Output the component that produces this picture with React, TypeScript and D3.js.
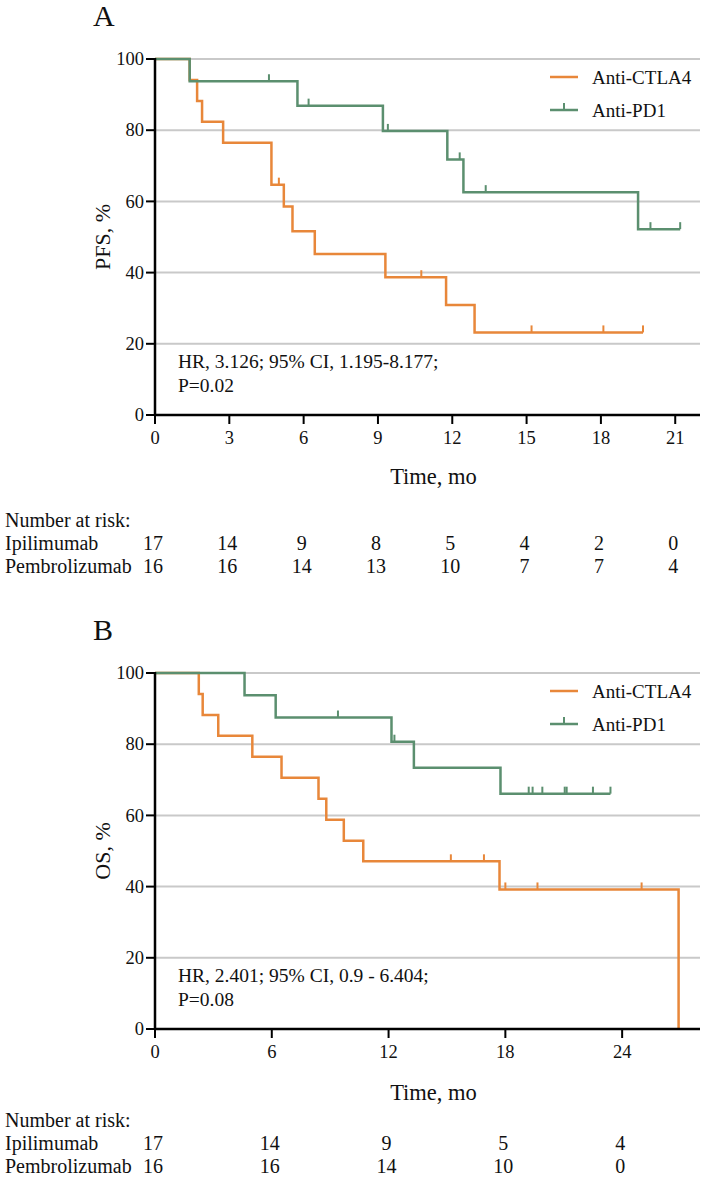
import React from "react";
import * as d3 from "d3";

// ---- data ----
const yTicks = [0, 20, 40, 60, 80, 100];

const pfsTimeTicks = [0, 3, 6, 9, 12, 15, 18, 21];
const osTimeTicks = [0, 6, 12, 18, 24];

// PFS, anti-CTLA4 (ipilimumab)
const pfsCtlaTimes = [0, 1.4, 1.7, 1.9, 2.75, 4.7, 5.2, 5.55, 6.45, 9.3, 11.75, 12.9];
const pfsCtlaSurv = [100, 94.1, 88.2, 82.4, 76.5, 64.7, 58.6, 51.6, 45.2, 38.7, 30.9, 23.2];
const pfsCtlaEnd = 19.7;
const pfsCtlaCensor = [5.0, 10.75, 15.2, 18.1, 19.7];

// PFS, anti-PD1 (pembrolizumab)
const pfsPd1Times = [0, 1.4, 5.75, 9.2, 11.8, 12.45, 19.5];
const pfsPd1Surv = [100, 93.75, 86.9, 79.8, 71.8, 62.6, 52.2];
const pfsPd1End = 21.2;
const pfsPd1Censor = [4.6, 6.2, 9.4, 12.3, 13.35, 20.0, 21.2];

// OS, anti-CTLA4
const osCtlaTimes = [0, 2.25, 2.45, 3.25, 5.0, 6.5, 8.4, 8.8, 9.7, 10.7, 17.7, 26.9];
const osCtlaSurv = [100, 94.1, 88.2, 82.4, 76.5, 70.6, 64.7, 58.8, 52.9, 47.1, 39.2, 0];
const osCtlaEnd = 26.9;
const osCtlaCensor = [15.2, 16.9, 18.0, 19.65, 25.0];

// OS, anti-PD1
const osPd1Times = [0, 4.6, 6.2, 12.15, 13.3, 17.75];
const osPd1Surv = [100, 93.75, 87.5, 80.7, 73.4, 66.1];
const osPd1End = 23.4;
const osPd1Censor = [9.4, 12.3, 19.2, 19.4, 19.9, 21.05, 21.15, 22.5, 23.4];

// numbers at risk
const pfsIpiRisk = [17, 14, 9, 8, 5, 4, 2, 0];
const pfsPemRisk = [16, 16, 14, 13, 10, 7, 7, 4];
const osIpiRisk = [17, 14, 9, 5, 4];
const osPemRisk = [16, 16, 14, 10, 0];

const seriesNames = ["Anti-CTLA4", "Anti-PD1"];
const riskNames = ["Ipilimumab", "Pembrolizumab"];

const ORANGE = "#e8873a";
const GREEN = "#5b8f6f";
const GRID = "#c9c9c9";
const FONT = "'Liberation Serif', 'Times New Roman', serif";

type Curve = { times: number[]; surv: number[]; end: number; censor: number[]; color: string };

function survAt(c: Curve, t: number) {
  let s = c.surv[0];
  c.times.forEach((ti, i) => {
    if (ti <= t) s = c.surv[i];
  });
  return s;
}

function Panel(props: {
  top: number;
  letter: string;
  yLabel: string;
  xMax: number;
  xTicks: number[];
  curves: Curve[];
  stats: string[];
  risk: number[][];
  tableTop: number;
  titleY: number;
}) {
  const { top, letter, yLabel, xMax, xTicks, curves, stats, risk, tableTop, titleY } = props;
  const left = 155;
  const right = 700;
  const x = d3.scaleLinear().domain([0, xMax]).range([left, right]);
  const y = d3.scaleLinear().domain([0, 100]).range([top + 356, top]);
  const line = d3
    .line<[number, number]>()
    .x((d) => x(d[0]))
    .y((d) => y(d[1]))
    .curve(d3.curveStepAfter);

  return (
    <g fontFamily={FONT} fill="#111">
      <text x={93} y={top - 33} fontSize={30}>
        {letter}
      </text>
      {yTicks.map((v) => (
        <g key={v}>
          {v > 0 && <line x1={left} x2={right} y1={y(v)} y2={y(v)} stroke={GRID} strokeWidth={2} />}
          <line x1={left - 9} x2={left} y1={y(v)} y2={y(v)} stroke="#000" strokeWidth={2} />
          <text x={left - 11} y={y(v)} dy="0.34em" textAnchor="end" fontSize={18.5}>
            {v}
          </text>
        </g>
      ))}
      <text
        transform={`translate(110,${y(50)}) rotate(-90)`}
        textAnchor="middle"
        fontSize={22}
      >
        {yLabel}
      </text>
      {curves.map((c, i) => {
        const pts: [number, number][] = c.times.map((t, j) => [t, c.surv[j]]);
        pts.push([c.end, c.surv[c.surv.length - 1]]);
        return (
          <g key={i}>
            <path d={line(pts) || ""} fill="none" stroke={c.color} strokeWidth={2.5} />
            {c.censor.map((t, j) => (
              <line
                key={j}
                x1={x(t)}
                x2={x(t)}
                y1={y(survAt(c, t))}
                y2={y(survAt(c, t)) - 7}
                stroke={c.color}
                strokeWidth={2}
              />
            ))}
          </g>
        );
      })}
      <line x1={left} x2={left} y1={y(0)} y2={y(100) - 1} stroke="#000" strokeWidth={2.5} />
      <line x1={left} x2={right} y1={y(0)} y2={y(0)} stroke="#000" strokeWidth={2.5} />
      {xTicks.map((t) => (
        <g key={t}>
          <line x1={x(t)} x2={x(t)} y1={y(0)} y2={y(0) + 9} stroke="#000" strokeWidth={2} />
          <text x={x(t)} y={y(0) + 29} textAnchor="middle" fontSize={18.5}>
            {t}
          </text>
        </g>
      ))}
      <text x={(left + right) / 2 + 6} y={titleY} textAnchor="middle" fontSize={22.5}>
        Time, mo
      </text>
      {/* legend */}
      {curves.map((c, i) => {
        const ly = top + 18 + i * 33;
        return (
          <g key={i}>
            <line x1={550} x2={578} y1={ly} y2={ly} stroke={c.color} strokeWidth={2.5} />
            {i === 1 && <line x1={564} x2={564} y1={ly} y2={ly - 7} stroke={c.color} strokeWidth={2} />}
            <text x={592} y={ly} dy="0.36em" fontSize={19}>
              {seriesNames[i]}
            </text>
          </g>
        );
      })}
      {stats.map((s, i) => (
        <text key={i} x={178} y={y(0) - 47 + i * 24} fontSize={19.5}>
          {s}
        </text>
      ))}
      {/* number at risk */}
      <text x={5} y={tableTop} fontSize={20}>
        Number at risk:
      </text>
      {risk.map((row, r) => (
        <g key={r}>
          <text x={5} y={tableTop + 23 * (r + 1)} fontSize={20}>
            {riskNames[r]}
          </text>
          {row.map((n, k) => (
            <text key={k} x={x(xTicks[k]) - 2} y={tableTop + 23 * (r + 1)} textAnchor="middle" fontSize={20}>
              {n}
            </text>
          ))}
        </g>
      ))}
    </g>
  );
}

export default function App() {
  const pfsCurves: Curve[] = [
    { times: pfsCtlaTimes, surv: pfsCtlaSurv, end: pfsCtlaEnd, censor: pfsCtlaCensor, color: ORANGE },
    { times: pfsPd1Times, surv: pfsPd1Surv, end: pfsPd1End, censor: pfsPd1Censor, color: GREEN },
  ];
  const osCurves: Curve[] = [
    { times: osCtlaTimes, surv: osCtlaSurv, end: osCtlaEnd, censor: osCtlaCensor, color: ORANGE },
    { times: osPd1Times, surv: osPd1Surv, end: osPd1End, censor: osPd1Censor, color: GREEN },
  ];
  return (
    <svg
      width={705}
      height={1181}
      style={{ position: "absolute", left: 0, top: 0, background: "#fff" }}
    >
      <rect width={705} height={1181} fill="#fff" />
      <Panel
        top={59}
        letter="A"
        yLabel="PFS, %"
        xMax={22}
        xTicks={pfsTimeTicks}
        curves={pfsCurves}
        stats={["HR, 3.126; 95% CI, 1.195-8.177;", "P=0.02"]}
        risk={[pfsIpiRisk, pfsPemRisk]}
        tableTop={527}
        titleY={484}
      />
      <Panel
        top={673}
        letter="B"
        yLabel="OS, %"
        xMax={28}
        xTicks={osTimeTicks}
        curves={osCurves}
        stats={["HR, 2.401; 95% CI, 0.9 - 6.404;", "P=0.08"]}
        risk={[osIpiRisk, osPemRisk]}
        tableTop={1127}
        titleY={1100}
      />
    </svg>
  );
}
